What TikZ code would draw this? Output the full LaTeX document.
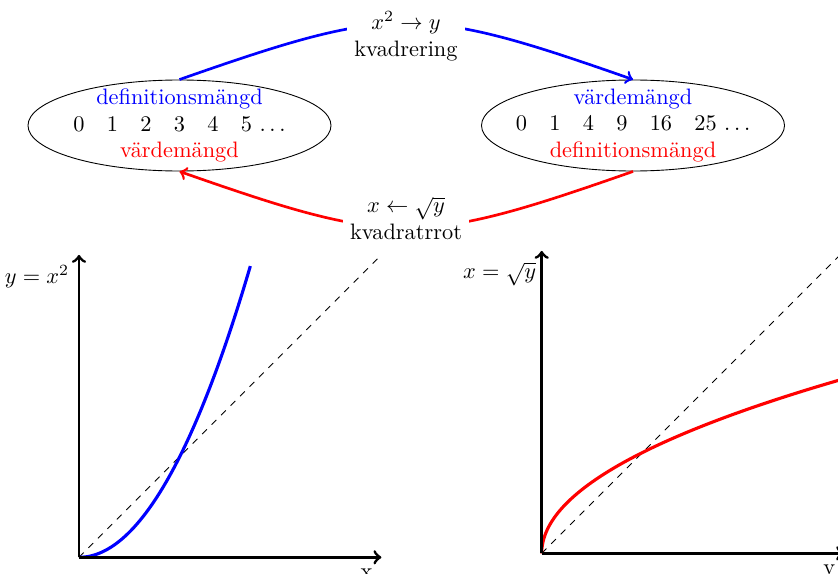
\documentclass[tikz,border=0pt]{standalone}
\usetikzlibrary{shapes.geometric}
\begin{document}
\begin{tikzpicture}[x=0.4478pt,y=-0.4478pt,
  setbox/.style={draw, ellipse, minimum width=135.7pt, minimum height=40.75pt, inner sep=0pt},
  settext/.style={align=center, inner sep=0pt},
  maplabel/.style={fill=white, align=center},
  maparrow/.style={->, line width=1.2pt},
  axisline/.style={->, line width=1.3pt},
  diagline/.style={dashed, thin},
  graphline/.style={line width=1.4pt},
  endlabel/.style={below left, yshift=-1.4pt}]
\useasboundingbox (0,0) rectangle (838,573);
\clip (0,0) rectangle (838,573);

% sets
\node[setbox] (L) at (179.5,125.5) {};
\node[settext] (Lt) at (L.center) {\textcolor{blue}{definitionsmängd}\\0\quad 1\quad 2\quad 3\quad 4\quad 5 $\dots$\\\textcolor{red}{värdemängd}};
\node[setbox] (R) at (633,125.5) {};
\node[settext] (Rt) at (R.center) {\textcolor{blue}{värdemängd}\\0\quad 1\quad 4\quad 9\quad 16\quad 25 $\dots$\\\textcolor{red}{definitionsmängd}};

% mappings
\draw[maparrow, blue] (L.north) .. controls +(214,-75) and +(-214,-75) .. (R.north);
\node[maplabel] (sq) at (406,36) {$x^2\to y$\\kvadrering};
\draw[maparrow, red] (R.south) .. controls +(-214,75) and +(214,75) .. (L.south);
\node[maplabel] (rt) at (406,218) {$x\leftarrow\sqrt{y}$\\kvadratrrot};

% left graph
\begin{scope}[shift={(79,557.3)}, x=45.14pt, y=45.14pt]
  \coordinate (O1) at (0,0);
  \coordinate (X1) at (3,0);
  \coordinate (Y1) at (0,3);
  \coordinate (D1) at (2.97,2.97);
  \draw[diagline] (O1) -- (D1);
  \draw[graphline, blue] plot[domain=0:1.7, samples=60, smooth] (\x, {\x*\x});
  \draw[axisline] (O1) -- (Y1);
  \draw[axisline] (O1) -- (X1) node[endlabel] (xl) {x};
\end{scope}
\node[anchor=east] (ly) at (77,277) {$y=x^2$};

% right graph
\begin{scope}[shift={(541.7,553.3)}, x=45.14pt, y=45.14pt]
  \coordinate (O2) at (0,0);
  \coordinate (X2) at (3,0);
  \coordinate (Y2) at (0,3);
  \coordinate (D2) at (3,3);
  \draw[diagline] (O2) -- (D2);
  \draw[graphline, red] plot[domain=0:1.74, samples=80, smooth] ({\x*\x}, \x);
  \draw[axisline] (O2) -- (Y2);
  \draw[axisline] (O2) -- (X2) node[endlabel] (yl) {y};
\end{scope}
\node[anchor=east] (lx) at (544,274) {$x=\sqrt{y}$};
\end{tikzpicture}
\end{document}
